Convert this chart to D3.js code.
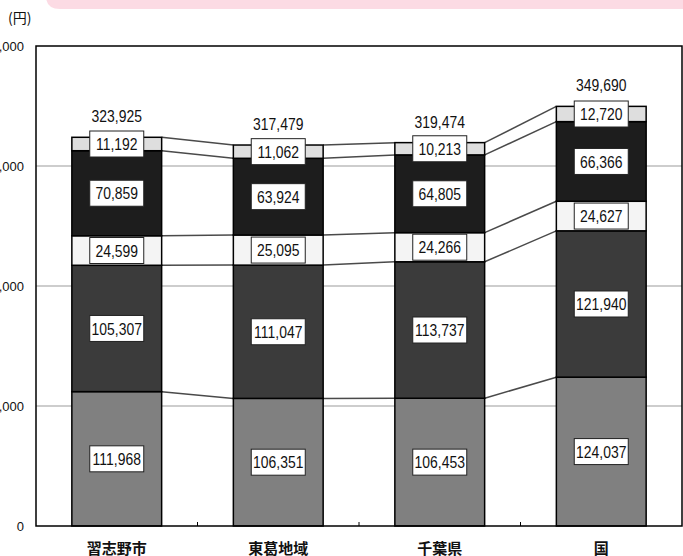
<!DOCTYPE html>
<html>
<head>
<meta charset="utf-8">
<script src="https://cdn.jsdelivr.net/npm/d3@7"></script>
<style>
  body { margin: 0; background: #fff; }
  svg { display: block; }
  .num { font-family: "Liberation Sans", Arial, sans-serif; }
</style>
</head>
<body>
<div id="chart"></div>
<script>
// categories and stacked values, bottom segment first
let categories = ["習志野市", "東葛地域", "千葉県", "国"];
let seg1 = [111968, 106351, 106453, 124037];
let seg2 = [105307, 111047, 113737, 121940];
let seg3 = [24599, 25095, 24266, 24627];
let seg4 = [70859, 63924, 64805, 66366];
let seg5 = [11192, 11062, 10213, 12720];
let totals = [323925, 317479, 319474, 349690];
let yTicks = [0, 100000, 200000, 300000, 400000];

let segColors = ["#808080", "#3b3b3b", "#f4f4f4", "#1d1d1d", "#dedede"];

let width = 683, height = 556;
let plotLeft = 36, plotRight = 682, plotTop = 46, plotBottom = 526;
let narrow = "scale(0.82,1)"; // squeeze numbers like a narrow face

let svg = d3.select("#chart").append("svg")
  .attr("width", width).attr("height", height);

// pink banner cut at top
svg.append("path")
  .attr("d", "M46,-2 L46,-4 Q46,9 60,9 L683,9 L683,-2 Z")
  .attr("fill", "#fcdbe4");

let x = d3.scaleBand()
  .domain(categories)
  .range([plotLeft, plotRight])
  .paddingInner(0.444)
  .paddingOuter(0.222);

let y = d3.scaleLinear()
  .domain([0, 400000])
  .range([plotBottom, plotTop]);

// gridlines
svg.append("g")
  .selectAll("line")
  .data(yTicks.filter(d => d > 0 && d < 400000))
  .enter().append("line")
  .attr("x1", plotLeft).attr("x2", plotRight)
  .attr("y1", d => y(d)).attr("y2", d => y(d))
  .attr("stroke", "#bdbdbd").attr("stroke-width", 1.5);

// y axis labels
let yAxis = d3.axisLeft(y).tickValues(yTicks).tickFormat(d3.format(",")).tickSize(0).tickPadding(12);
let yg = svg.append("g").attr("transform", "translate(" + plotLeft + ",0)").call(yAxis);
yg.select(".domain").remove();
yg.selectAll("text")
  .attr("font-family", "'Liberation Sans', Arial, sans-serif")
  .attr("font-size", 13).attr("fill", "#111");

// unit label
svg.append("text")
  .attr("x", 8).attr("y", 23)
  .attr("font-family", "'Noto Sans CJK JP', sans-serif")
  .attr("font-size", 14).attr("fill", "#111")
  .text("(円)");

// build stacked rows
let segs = [seg1, seg2, seg3, seg4, seg5];
let rows = categories.map(function(c, i) {
  let acc = 0;
  let parts = segs.map(function(s, k) {
    let p = { cat: c, k: k, v: s[i], y0: acc, y1: acc + s[i] };
    acc += s[i];
    return p;
  });
  return { cat: c, parts: parts, total: totals[i] };
});

// connector lines between neighbouring bars
let connectors = [];
for (let i = 0; i < rows.length - 1; i++) {
  for (let k = 0; k < segs.length; k++) {
    connectors.push({
      x1: x(rows[i].cat) + x.bandwidth(),
      y1: y(rows[i].parts[k].y1),
      x2: x(rows[i + 1].cat),
      y2: y(rows[i + 1].parts[k].y1)
    });
  }
}
svg.append("g")
  .selectAll("line")
  .data(connectors)
  .enter().append("line")
  .attr("x1", d => d.x1).attr("y1", d => d.y1)
  .attr("x2", d => d.x2).attr("y2", d => d.y2)
  .attr("stroke", "#4a4a4a").attr("stroke-width", 1.5);

// bars
let bars = svg.append("g")
  .selectAll("g")
  .data(rows)
  .enter().append("g");

bars.selectAll("rect")
  .data(d => d.parts)
  .enter().append("rect")
  .attr("x", d => x(d.cat))
  .attr("width", x.bandwidth())
  .attr("y", d => y(d.y1))
  .attr("height", d => y(d.y0) - y(d.y1))
  .attr("fill", d => segColors[d.k])
  .attr("stroke", "#000").attr("stroke-width", 1.5);

// value labels in white boxes
let boxW = 54, boxH = 26;
let labels = bars.selectAll("g.lab")
  .data(d => d.parts)
  .enter().append("g")
  .attr("class", "lab")
  .attr("transform", d => "translate(" + (x(d.cat) + x.bandwidth() / 2) + "," + y((d.y0 + d.y1) / 2) + ")");

labels.append("rect")
  .attr("x", -boxW / 2).attr("y", -boxH / 2)
  .attr("width", boxW).attr("height", boxH)
  .attr("fill", "#fff").attr("stroke", "#222").attr("stroke-width", 1);

labels.append("text")
  .attr("class", "num")
  .attr("transform", narrow)
  .attr("text-anchor", "middle")
  .attr("dy", "0.36em")
  .attr("font-size", 17).attr("fill", "#111")
  .text(d => d3.format(",")(d.v));

// totals above bars
bars.append("g")
  .attr("transform", d => "translate(" + (x(d.cat) + x.bandwidth() / 2) + "," + (y(d.total) - 15) + ")")
  .append("text")
  .attr("class", "num")
  .attr("transform", narrow)
  .attr("text-anchor", "middle")
  .attr("font-size", 17).attr("fill", "#111")
  .text(d => d3.format(",")(d.total));

// small ticks between categories
let step = x.step();
svg.append("g")
  .selectAll("line")
  .data(categories.slice(1))
  .enter().append("line")
  .attr("x1", d => x(d) - (step - x.bandwidth()) / 2)
  .attr("x2", d => x(d) - (step - x.bandwidth()) / 2)
  .attr("y1", plotBottom).attr("y2", plotBottom - 4)
  .attr("stroke", "#000").attr("stroke-width", 1);

// plot frame
svg.append("rect")
  .attr("x", plotLeft).attr("y", plotTop)
  .attr("width", plotRight - plotLeft).attr("height", plotBottom - plotTop)
  .attr("fill", "none").attr("stroke", "#000").attr("stroke-width", 1.5);

// category labels
svg.append("g")
  .selectAll("text")
  .data(categories)
  .enter().append("text")
  .attr("x", d => x(d) + x.bandwidth() / 2)
  .attr("y", 554)
  .attr("text-anchor", "middle")
  .attr("font-family", "'Noto Sans CJK JP', sans-serif")
  .attr("font-size", 15).attr("font-weight", 700).attr("fill", "#111")
  .text(d => d);
</script>
</body>
</html>
